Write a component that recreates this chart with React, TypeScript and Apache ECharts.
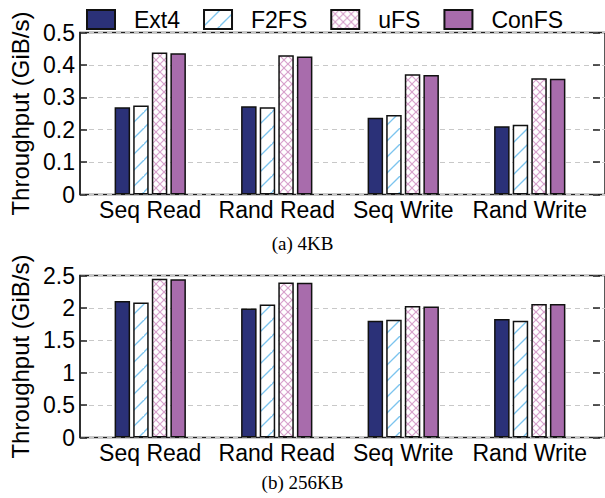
import React, { useEffect, useRef } from "react";
import * as echarts from "echarts";

const categories = ["Seq Read", "Rand Read", "Seq Write", "Rand Write"];
const seriesNames = ["Ext4", "F2FS", "uFS", "ConFS"];

// (a) 4KB, GiB/s
const ext4_4k = [0.269, 0.272, 0.237, 0.211];
const f2fs_4k = [0.275, 0.269, 0.245, 0.215];
const ufs_4k = [0.438, 0.430, 0.371, 0.359];
const confs_4k = [0.436, 0.426, 0.369, 0.357];

// (b) 256KB, GiB/s
const ext4_256k = [2.105, 1.99, 1.80, 1.827];
const f2fs_256k = [2.083, 2.052, 1.816, 1.80];
const ufs_256k = [2.449, 2.392, 2.028, 2.059];
const confs_256k = [2.444, 2.387, 2.022, 2.059];

const topTicks = ["0", "0.1", "0.2", "0.3", "0.4", "0.5"];
const bottomTicks = ["0", "0.5", "1", "1.5", "2", "2.5"];

const SANS = "Liberation Sans, Arial, Helvetica, sans-serif";
const SERIF = "Liberation Serif, Times New Roman, serif";

function makeHatch(size: number, color: string, width: number, cross: boolean) {
  const c = document.createElement("canvas");
  c.width = size;
  c.height = size;
  const ctx = c.getContext("2d")!;
  ctx.fillStyle = "#ffffff";
  ctx.fillRect(0, 0, size, size);
  ctx.strokeStyle = color;
  ctx.lineWidth = width;
  const seg = (x1: number, y1: number, x2: number, y2: number) => {
    ctx.beginPath();
    ctx.moveTo(x1, y1);
    ctx.lineTo(x2, y2);
    ctx.stroke();
  };
  seg(-1, size + 1, size + 1, -1);
  seg(-size - 1, size + 1, 1, -1);
  seg(size - 1, 2 * size + 1, 2 * size + 1, size - 1);
  if (cross) {
    seg(-1, -1, size + 1, size + 1);
    seg(-size - 1, -1, 1, size + 1);
    seg(size - 1, -1, 2 * size + 1, size + 1);
  }
  return { image: c, repeat: "repeat", imageWidth: size, imageHeight: size } as any;
}

export default function App() {
  const ref = useRef<HTMLDivElement>(null);

  useEffect(() => {
    if (!ref.current) return;
    const chart = echarts.init(ref.current, undefined, { renderer: "svg" });

    const f2fsPattern = makeHatch(16, "#7cc4ee", 1.3, false);
    const ufsPattern = makeHatch(8, "#d7a2cc", 1.2, true);

    const colors = ["#2b3178", f2fsPattern, ufsPattern, "#a86cac"];

    const FS = 23;
    const frameLeft = 78;
    const frameWidth = 531;
    const barLeft = 87;
    const barWidthGrid = 506;
    const plotH = 162;
    const tops = [32.5, 275.5];
    const maxes = [0.5, 2.5];
    const intervals = [0.1, 0.5];
    const tickLabels = [topTicks, bottomTicks];
    const data = [
      [ext4_4k, f2fs_4k, ufs_4k, confs_4k],
      [ext4_256k, f2fs_256k, ufs_256k, confs_256k],
    ];

    const grids: any[] = [];
    const xAxes: any[] = [];
    const yAxes: any[] = [];
    const series: any[] = [];

    for (let p = 0; p < 2; p++) {
      const fg = grids.length;
      grids.push({
        left: frameLeft,
        top: tops[p],
        width: frameWidth,
        height: plotH,
        show: true,
        borderColor: "#222",
        borderWidth: 1.5,
        backgroundColor: "transparent",
      });
      const bg = grids.length;
      grids.push({ left: barLeft, top: tops[p], width: barWidthGrid, height: plotH });

      xAxes.push({ gridIndex: fg, type: "value", min: 0, max: 1, show: false });
      xAxes.push({
        gridIndex: bg,
        type: "category",
        data: categories,
        axisLine: { show: false },
        axisTick: { show: false },
        axisLabel: { color: "#000", fontFamily: SANS, fontSize: FS, margin: 4, interval: 0 },
      });

      const labels = tickLabels[p];
      const iv = intervals[p];
      yAxes.push({
        gridIndex: fg,
        type: "value",
        min: 0,
        max: maxes[p],
        interval: iv,
        name: "Throughput (GiB/s)",
        nameLocation: "middle",
        nameRotate: 90,
        nameGap: 48,
        nameTextStyle: { color: "#000", fontFamily: SANS, fontSize: 24 },
        axisLine: { show: true, lineStyle: { color: "#222", width: 1.5 } },
        axisTick: { show: true, inside: true, length: 7, lineStyle: { color: "#222", width: 1.5 } },
        axisLabel: {
          color: "#000",
          fontFamily: SANS,
          fontSize: FS,
          margin: 5,
          formatter: (v: number) => labels[Math.round(v / iv)] ?? String(v),
        },
        splitLine: { show: true, lineStyle: { color: "#c8c8c8", type: [5, 4], width: 1 } },
      });
      yAxes.push({
        gridIndex: fg,
        type: "value",
        position: "right",
        offset: -5,
        min: 0,
        max: maxes[p],
        interval: iv,
        axisLine: { show: false },
        axisTick: { show: true, inside: true, length: 7, lineStyle: { color: "#222", width: 1.5 } },
        axisLabel: { show: false },
        splitLine: { show: false },
      });
      const byi = yAxes.length;
      yAxes.push({ gridIndex: bg, type: "value", min: 0, max: maxes[p], show: false, splitLine: { show: false } });

      for (let s = 0; s < 4; s++) {
        series.push({
          type: "bar",
          name: seriesNames[s],
          xAxisIndex: xAxes.length - 1,
          yAxisIndex: byi,
          data: data[p][s],
          barWidth: 15.5,
          barGap: "20%",
          itemStyle: { color: colors[s], borderColor: "#111", borderWidth: 1.5 },
          emphasis: { disabled: true },
        });
      }
    }

    chart.setOption({
      animation: false,
      backgroundColor: "#fff",
      title: [
        {
          text: "(a) 4KB",
          left: "center",
          top: 229,
          textStyle: { fontFamily: SERIF, fontSize: 19, fontWeight: "normal", color: "#000" },
        },
        {
          text: "(b) 256KB",
          left: "center",
          top: 468,
          textStyle: { fontFamily: SERIF, fontSize: 19, fontWeight: "normal", color: "#000" },
        },
      ],
      legend: {
        data: seriesNames,
        left: 81,
        top: 3,
        icon: "rect",
        itemWidth: 28,
        itemHeight: 19,
        itemGap: 23,
        selectedMode: false,
        textStyle: { color: "#000", fontFamily: SANS, fontSize: FS, padding: [0, 0, 0, 14] },
      },
      grid: grids,
      xAxis: xAxes,
      yAxis: yAxes,
      series,
    });

    return () => chart.dispose();
  }, []);

  return (
    <div
      ref={ref}
      style={{ position: "absolute", left: 0, top: 0, width: 605, height: 498 }}
    />
  );
}
